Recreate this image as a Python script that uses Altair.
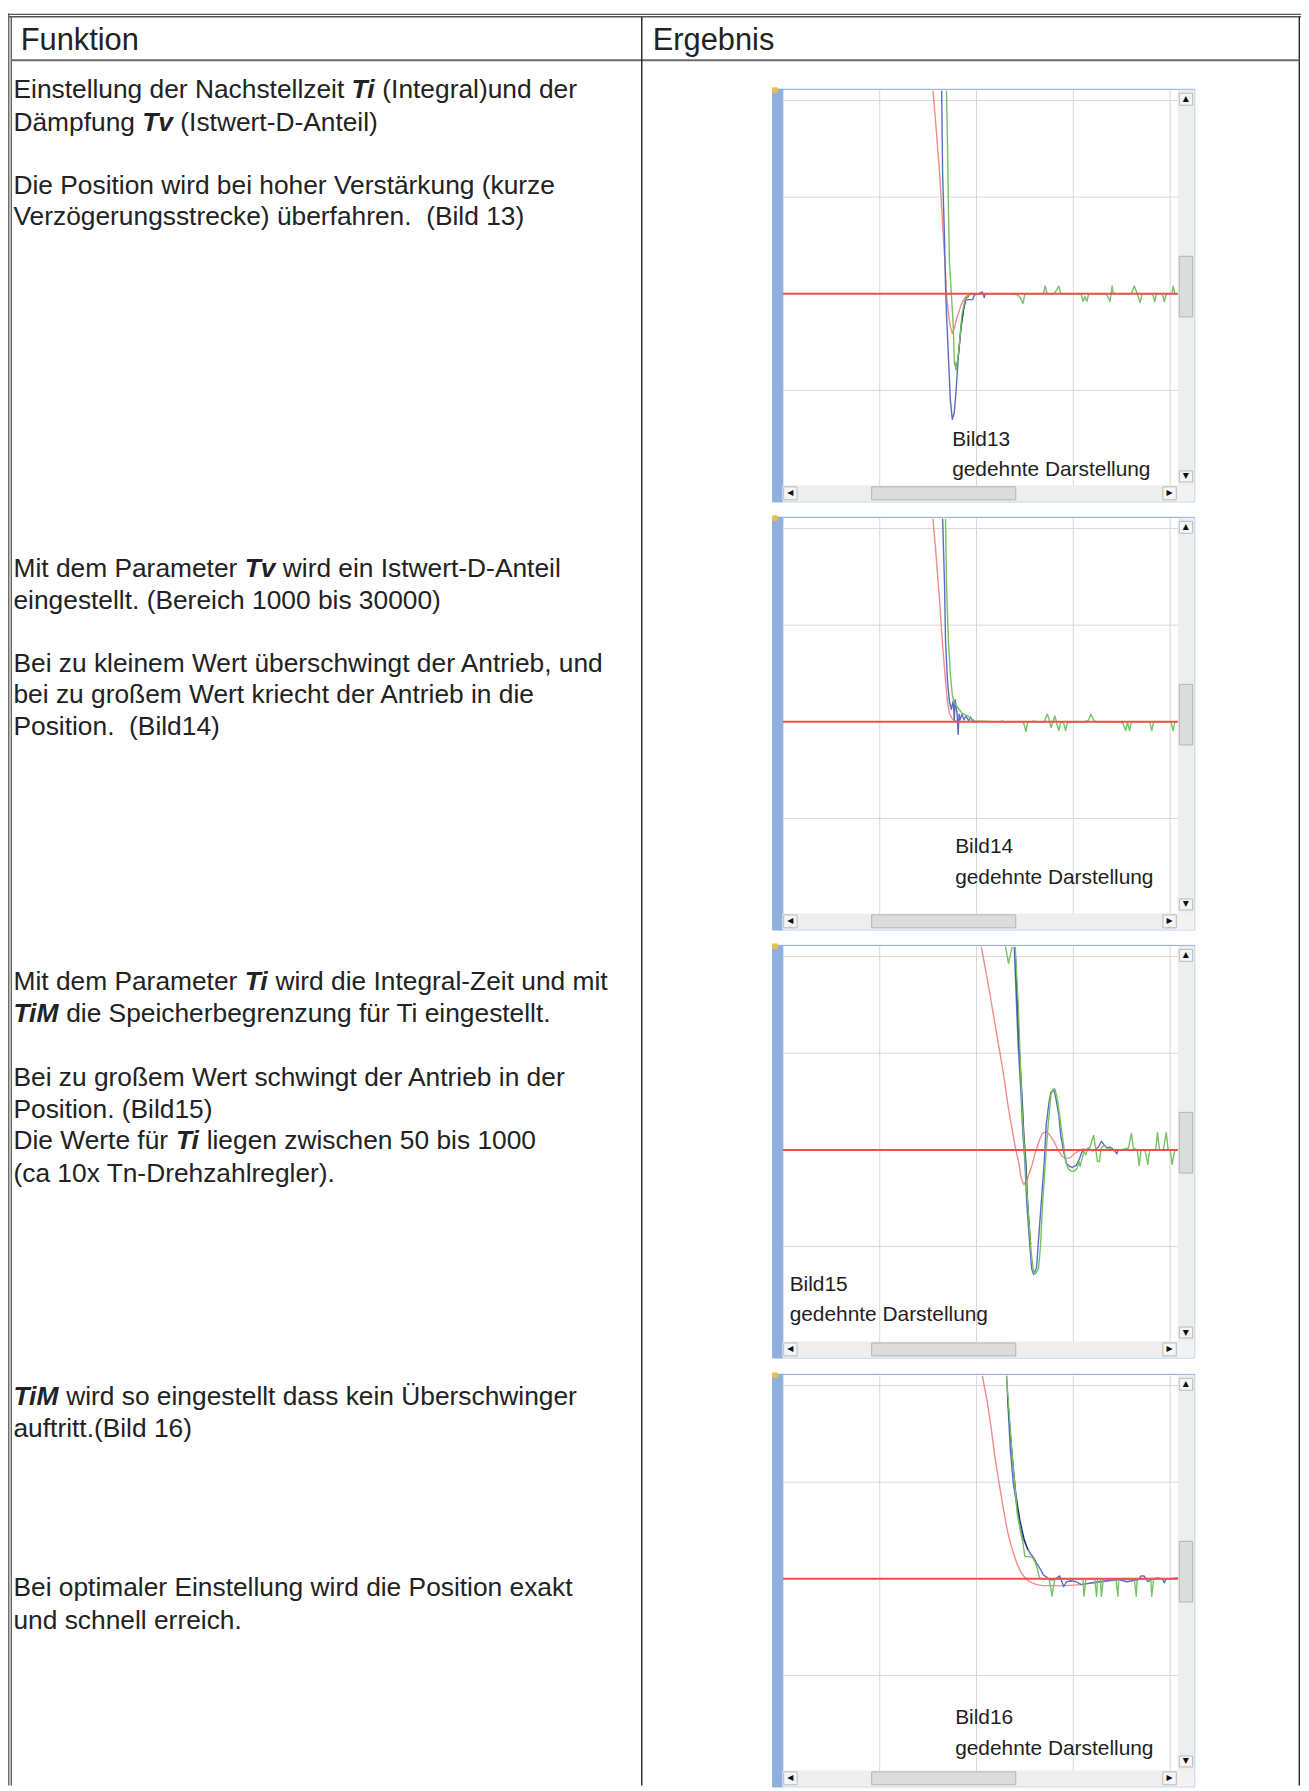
import altair as alt
import pandas as pd

# ================= chart values =================
# t = time in ms (100 ms per grid division), v = position deviation (100 per division)

# --- Bild 13 ---
B13_SOLL_T = [155, 158, 162, 165, 168, 169, 171, 173, 175, 177, 180, 184, 188, 192, 198, 211]
B13_SOLL_V = [210, 175, 123, 72, 21, 0, -21, -34, -41, -36, -24, -12, -4, -1, 0, 0]
B13_BLAU_T = [164, 165, 167, 168, 169, 171, 173, 175, 177, 179, 181, 184, 187, 189, 196, 198, 202, 206, 208, 209, 213]
B13_BLAU_V = [210, 123, 55, 7, -21, -65, -110, -130, -123, -99, -68, -34, -14, -6, -6, -1, 0, 2, -4, 0, 0]
B13_GRUEN_T = [169, 170, 171, 172, 174, 176, 177, 179, 181, 183, 185, 188, 191, 194, 238, 242, 245, 248, 250, 252,
               269, 271, 273, 280, 281, 285, 287, 308, 310, 312, 314, 316, 334, 336, 338, 340, 341, 345, 360, 363,
               366, 369, 371, 382, 384, 386, 392, 394, 396, 402, 403, 405, 408]
B13_GRUEN_V = [210, 157, 89, 34, 0, -34, -68, -79, -65, -44, -21, -7, -2, 0, 0, -1, -4, -10, 0, 0,
               0, 8, 0, 0, 1, 8, 0, 0, -8, -3, -8, 0, 0, -4, -8, 8, 1, 0, 0, 8,
               0, -9, 0, 0, -8, 0, 0, -8, 0, 0, 8, 0, 0]
B13_DUNKEL_T = [177, 179, 181, 184, 187, 189, 192]
B13_DUNKEL_V = [-70, -78, -66, -35, -14, -5, -2]

# --- Bild 14 ---
B14_SOLL_T = [155, 158, 162, 165, 168, 170, 172, 175, 179, 189]
B14_SOLL_V = [210, 175, 124, 79, 42, 21, 9, 3, 1, 0]
B14_BLAU_T = [165, 167, 168, 170, 172, 174, 176, 177, 178, 180, 181, 182, 183, 185, 187, 189, 192, 194, 196, 200]
B14_BLAU_V = [210, 141, 83, 42, 21, 13, 22, 1, 23, 8, -13, 8, 2, 8, 2, 6, 1, 5, 0, 0]
B14_GRUEN_T = [168, 169, 171, 173, 175, 177, 179, 182, 185, 191, 195, 198, 225, 226, 230, 247, 249, 251, 253, 257,
               259, 261, 270, 273, 275, 277, 279, 281, 283, 285, 287, 290, 292, 294, 296, 298, 312, 316, 318, 321,
               323, 346, 351, 354, 356, 358, 360, 370, 379, 381, 383, 391, 401, 403, 405, 406]
B14_GRUEN_V = [210, 141, 83, 49, 28, 20, 17, 13, 9, 6, 3, 1, 0, 1, 0, 0, -2, -10, 0, 0,
               1, 0, 0, 8, 3, -6, 0, 6, -2, -9, 0, -1, -9, 0, -1, 0, 0, 2, 8, 2,
               0, 0, -1, -9, 0, -9, 0, 0, 0, -9, 0, 0, 0, -9, 0, 0]

# --- Bild 15 ---
B15_SOLL_T = [205, 213, 220, 227, 233, 240, 244, 246, 249, 252, 257, 261, 265, 268, 272, 275, 280, 284, 288, 292,
              297, 301, 306, 310, 316, 326]
B15_SOLL_V = [210, 166, 125, 84, 43, 3, -15, -29, -36, -31, -17, -2, 10, 17, 19, 16, 9, 0, -6, -9,
              -8, -4, -1, 1, 0, 0]
B15_BLAU_T = [239, 241, 243, 246, 248, 250, 252, 255, 257, 259, 262, 264, 267, 270, 272, 275, 277, 280, 282, 285,
              287, 290, 293, 296, 299, 303, 306, 309, 313, 316, 320, 322, 326, 329, 332, 335, 338, 342, 345, 346]
B15_BLAU_V = [210, 159, 109, 57, 15, -12, -57, -98, -123, -129, -122, -94, -53, -12, 26, 50, 60, 62, 53, 36,
              15, -2, -14, -17, -18, -16, -10, -2, 0, 1, -1, 0, 3, 9, 5, 2, 3, 0, -4, -1]
B15_GRUEN_A_T = [230, 233, 235, 237]
B15_GRUEN_A_V = [210, 193, 202, 210]
B15_GRUEN_B_T = [240, 243, 245, 247, 249, 251, 254, 257, 259, 261, 264, 266, 268, 271, 274, 277, 279, 281, 284, 287,
                 290, 292, 295, 298, 301, 304, 306, 307, 309, 311, 313, 315, 317, 319, 321, 323, 325, 327, 329, 332,
                 335, 338, 342, 344, 350, 353, 357, 360, 362, 366, 368, 370, 374, 377, 379, 385, 387, 389, 393, 396,
                 398, 400, 402, 405, 406]
B15_GRUEN_B_V = [210, 152, 98, 43, 9, -26, -74, -111, -127, -128, -123, -101, -60, -15, 26, 57, 63, 63, 50, 27,
                 5, -12, -20, -22, -22, -19, -12, -17, -9, -2, -5, 2, 2, 9, 15, 2, -12, -12, 2, 5,
                 1, 2, -1, 0, 0, 1, 2, 17, 2, 0, -16, 0, 0, -15, 0, 0, 18, 0, 0, 18,
                 0, 0, -15, 0, 0]
B15_DUNKEL_T = [240, 242, 244, 247, 249, 251, 253, 256]
B15_DUNKEL_V = [205, 159, 109, 57, 15, -12, -57, -98]

# --- Bild 16 ---
B16_SOLL_T = [206, 211, 215, 219, 224, 228, 232, 237, 242, 247, 252, 257, 262, 269, 279, 293, 307, 314, 348, 382]
B16_SOLL_V = [210, 184, 157, 126, 95, 71, 49, 30, 15, 5, -1, -4, -6, -7, -7, -7, -6, -5, -1, 0]
B16_BLAU_T = [231, 233, 235, 238, 242, 245, 248, 252, 255, 259, 262, 266, 269, 272, 276, 279, 283, 286, 290, 293,
              298, 303, 308, 314, 320, 327, 334, 341, 348, 355, 361, 367, 370, 373, 377, 382, 387, 392, 394, 396, 408]
B16_BLAU_V = [210, 170, 133, 99, 73, 54, 42, 33, 27, 22, 16, 10, 4, 2, -1, -1, 1, 3, -8, -3,
              -2, -3, -6, -5, -4, -3, -2, -1, -1, -3, -2, -1, 3, 3, -3, 0, 1, 0, -4, 0, 1]
B16_GRUEN_T = [231, 234, 237, 240, 242, 245, 248, 250, 253, 255, 258, 261, 263, 265, 269, 275, 277, 278, 279, 281,
               310, 311, 313, 322, 324, 325, 328, 329, 331, 344, 346, 347, 363, 365, 366, 380, 381, 383, 408]
B16_GRUEN_V = [210, 167, 126, 92, 68, 51, 37, 23, 23, 23, 22, 16, 10, 1, 0, 0, -11, -18, -11, 0,
               0, -18, 0, 0, -18, 0, 0, -18, 0, 0, -18, 0, 0, -18, 0, 0, -18, 0, 0]
B16_DUNKEL_T = [232, 235, 238, 241, 245, 249, 253]
B16_DUNKEL_V = [190, 150, 115, 85, 60, 42, 30]

# grid / target of the scope screens
T_DOMAIN = [0, 408]
V_DOMAIN = [-198.7, 210.5]
GRID_T = [100, 200, 300, 400]
GRID_V = [-100, 100, 200]
TARGET_V = 0

# ================= text =================
HEADER_LEFT = "Funktion"
HEADER_RIGHT = "Ergebnis"
PARA_LINES = [
    [("Einstellung der Nachstellzeit ", False), ("Ti", True), (" (Integral)und der", False)],
    [("Dämpfung ", False), ("Tv", True), (" (Istwert-D-Anteil)", False)],
    [("Die Position wird bei hoher Verstärkung (kurze", False)],
    [("Verzögerungsstrecke) überfahren.\u00a0 (Bild 13)", False)],
    [("Mit dem Parameter ", False), ("Tv", True), (" wird ein Istwert-D-Anteil", False)],
    [("eingestellt. (Bereich 1000 bis 30000)", False)],
    [("Bei zu kleinem Wert überschwingt der Antrieb, und", False)],
    [("bei zu großem Wert kriecht der Antrieb in die", False)],
    [("Position.\u00a0 (Bild14)", False)],
    [("Mit dem Parameter ", False), ("Ti", True), (" wird die Integral-Zeit und mit", False)],
    [("TiM", True), (" die Speicherbegrenzung für Ti eingestellt.", False)],
    [("Bei zu großem Wert schwingt der Antrieb in der", False)],
    [("Position. (Bild15)", False)],
    [("Die Werte für ", False), ("Ti", True), (" liegen zwischen 50 bis 1000", False)],
    [("(ca 10x Tn-Drehzahlregler).", False)],
    [("TiM", True), (" wird so eingestellt dass kein Überschwinger", False)],
    [("auftritt.(Bild 16)", False)],
    [("Bei optimaler Einstellung wird die Position exakt", False)],
    [("und schnell erreich.", False)],
]
PANEL_LABELS = [("Bild13", "gedehnte Darstellung"), ("Bild14", "gedehnte Darstellung"),
                ("Bild15", "gedehnte Darstellung"), ("Bild16", "gedehnte Darstellung")]

# ================= layout (view pixels) =================
W, H = 1301, 1783
FONT = "Liberation Sans, Arial, Helvetica, sans-serif"
FS = 26.5
HFS = 31
TEXT_X = 5.5
LINE_BASELINES = [85.5, 118, 182, 213.3, 567, 598.7, 662.7, 693.7, 726,
                  982.7, 1014.7, 1078.7, 1111, 1142.7, 1175.3, 1400.3, 1432.7, 1592.7, 1625.3]
PANEL_TOPS = [76.3, 507.0, 937.7, 1369.3]
PLOT_X = [779.7, 1177.1]
LABEL_POS = [(950, 434.7, 465.3), (953, 845, 875.6), (786.5, 1285, 1315.6), (953, 1721.3, 1752)]

COL_SOLL = "#f28b8b"
COL_BLAU = "#5a6cc6"
COL_GRUEN = "#74c263"
COL_DUNKEL = "#1d2a5c"
COL_ZIEL = "#ee5049"
COL_GRID = "#d9d9d9"

PXS = alt.Scale(domain=[0, W], range=[0, W], nice=False, zero=False)
PYS = alt.Scale(domain=[0, H], range=[0, H], nice=False, zero=False)

REG = {' ': 278, '\u00a0': 278, '(': 333, ')': 333, ',': 278, '-': 333, '.': 278,
       'A': 667, 'B': 667, 'D': 722, 'E': 667, 'I': 278, 'M': 833, 'N': 722, 'P': 667, 'T': 611,
       'V': 667, 'W': 944, 'Z': 611, 'Ü': 722,
       'a': 556, 'b': 556, 'c': 500, 'd': 556, 'e': 556, 'f': 278, 'g': 556, 'h': 556, 'i': 222,
       'k': 500, 'l': 222, 'm': 833, 'n': 556, 'o': 556, 'p': 556, 'r': 333, 's': 500, 't': 278,
       'u': 556, 'v': 500, 'w': 722, 'x': 500, 'z': 500, 'ä': 556, 'ö': 556, 'ü': 556, 'ß': 611}
BI = {' ': 278, 'T': 611, 'i': 278, 'v': 556, 'M': 833}


def adv(s, table, fs):
    return sum(table.get(c, 556) for c in s) * fs / 1000.0


# ---------- text rows ----------
reg_rows = [dict(x=12.8, y=37, text=HEADER_LEFT, s=HFS), dict(x=648.8, y=36.5, text=HEADER_RIGHT, s=HFS)]
bi_rows = []
for segs, base in zip(PARA_LINES, LINE_BASELINES):
    cur = TEXT_X
    for txt, bold in segs:
        table = BI if bold else REG
        lead = len(txt) - len(txt.lstrip(' '))
        x = cur + adv(' ' * lead, REG, FS)
        row = dict(x=x, y=base, text=txt.strip(' '), s=FS)
        (bi_rows if bold else reg_rows).append(row)
        cur += adv(txt, table, FS)

# ---------- panel decoration ----------
rect_rows, glyph_rows, label_rows = [], [], []
for t, (l1, l2), (lx, ly1, ly2) in zip(PANEL_TOPS, PANEL_LABELS, LABEL_POS):
    rect_rows += [
        dict(x=769.5, x2=1194, y=t, y2=t + 415, fill="#ffffff", stroke="#87a7d8"),
        dict(x=769.5, x2=779.7, y=t, y2=t + 415, fill="#8fb0dc", stroke="#8fb0dc"),
        dict(x=1177.5, x2=1193.5, y=t + 1, y2=t + 399, fill="#eeeeee", stroke="#eeeeee"),
        dict(x=779.7, x2=1177.5, y=t + 399, y2=t + 414.5, fill="#eeeeee", stroke="#eeeeee"),
        dict(x=1177.5, x2=1193.5, y=t + 399, y2=t + 414.5, fill="#f2f2f2", stroke="#f2f2f2"),
        dict(x=1178.5, x2=1192, y=t + 4, y2=t + 16, fill="#f5f5f5", stroke="#b9b9b9"),
        dict(x=1178.5, x2=1192, y=t + 168, y2=t + 229, fill="#dcdcdc", stroke="#b3b3b3"),
        dict(x=1178.5, x2=1192, y=t + 384, y2=t + 395, fill="#f5f5f5", stroke="#b9b9b9"),
        dict(x=780.5, x2=794, y=t + 400, y2=t + 413, fill="#f5f5f5", stroke="#b9b9b9"),
        dict(x=869, x2=1014, y=t + 400, y2=t + 413, fill="#dcdcdc", stroke="#b3b3b3"),
        dict(x=1162, x2=1175.5, y=t + 400, y2=t + 413, fill="#f5f5f5", stroke="#b9b9b9"),
        dict(x=769.5, x2=774, y=t - 1.5, y2=t + 3, fill="#e6c24a", stroke="#e6c24a"),
    ]
    glyph_rows += [
        dict(x=1185.2, y=t + 10, text="▲"), dict(x=1185.2, y=t + 389.5, text="▼"),
        dict(x=787.2, y=t + 406.5, text="◀"), dict(x=1168.8, y=t + 406.5, text="▶"),
    ]
    label_rows += [dict(x=lx, y=ly1, text=l1), dict(x=lx, y=ly2, text=l2)]

# ---------- table lines ----------
line_rows = [
    dict(x=0, x2=W, y=0.8, y2=0.8, c="#555555", w=1.3),
    dict(x=0.8, x2=W, y=3.3, y2=3.3, c="#555555", w=1.3),
    dict(x=0.8, x2=0.8, y=0, y2=H, c="#555555", w=1.3),
    dict(x=3.3, x2=3.3, y=3.3, y2=H, c="#555555", w=1.3),
    dict(x=1299.3, x2=1299.3, y=3.3, y2=H, c="#2a2a2a", w=1.4),
    dict(x=3.3, x2=1299.3, y=47, y2=47, c="#6a6a6a", w=2.0),
    dict(x=637.7, x2=637.7, y=3.3, y2=H, c="#222222", w=1.4),
]

layers = []

# decoration rectangles
layers.append(
    alt.Chart(pd.DataFrame(rect_rows)).mark_rect(strokeWidth=1).encode(
        x=alt.X("x:Q", scale=PXS, axis=None), x2="x2:Q",
        y=alt.Y("y:Q", scale=PYS, axis=None), y2="y2:Q",
        fill=alt.Fill("fill:N", scale=None), stroke=alt.Stroke("stroke:N", scale=None))
)


def tscale():
    return alt.Scale(domain=T_DOMAIN, range=PLOT_X, nice=False, zero=False)


def vscale(t):
    return alt.Scale(domain=V_DOMAIN, range=[t + 399, t + 1], nice=False, zero=False)


def trace(ts, vs, color, width, t, seg=None):
    df = pd.DataFrame({"t": ts, "v": vs, "i": list(range(len(ts)))})
    enc = dict(x=alt.X("t:Q", scale=tscale(), axis=None),
               y=alt.Y("v:Q", scale=vscale(t), axis=None),
               order=alt.Order("i:Q"))
    if seg is not None:
        df["seg"] = seg
        enc["detail"] = alt.Detail("seg:N")
    return alt.Chart(df).mark_line(color=color, strokeWidth=width, strokeJoin="round").encode(**enc)


PANELS = [
    dict(soll=(B13_SOLL_T, B13_SOLL_V), blau=(B13_BLAU_T, B13_BLAU_V),
         gruen=[(B13_GRUEN_T, B13_GRUEN_V)], dunkel=(B13_DUNKEL_T, B13_DUNKEL_V)),
    dict(soll=(B14_SOLL_T, B14_SOLL_V), blau=(B14_BLAU_T, B14_BLAU_V),
         gruen=[(B14_GRUEN_T, B14_GRUEN_V)], dunkel=None),
    dict(soll=(B15_SOLL_T, B15_SOLL_V), blau=(B15_BLAU_T, B15_BLAU_V),
         gruen=[(B15_GRUEN_A_T, B15_GRUEN_A_V), (B15_GRUEN_B_T, B15_GRUEN_B_V)],
         dunkel=(B15_DUNKEL_T, B15_DUNKEL_V)),
    dict(soll=(B16_SOLL_T, B16_SOLL_V), blau=(B16_BLAU_T, B16_BLAU_V),
         gruen=[(B16_GRUEN_T, B16_GRUEN_V)], dunkel=(B16_DUNKEL_T, B16_DUNKEL_V)),
]

for t, p in zip(PANEL_TOPS, PANELS):
    gv = pd.DataFrame({"t": GRID_T, "v1": V_DOMAIN[0], "v2": V_DOMAIN[1]})
    layers.append(alt.Chart(gv).mark_rule(color=COL_GRID, strokeWidth=1).encode(
        x=alt.X("t:Q", scale=tscale(), axis=None),
        y=alt.Y("v1:Q", scale=vscale(t), axis=None), y2="v2:Q"))
    gh = pd.DataFrame({"v": GRID_V, "t1": T_DOMAIN[0], "t2": T_DOMAIN[1]})
    layers.append(alt.Chart(gh).mark_rule(color=COL_GRID, strokeWidth=1).encode(
        y=alt.Y("v:Q", scale=vscale(t), axis=None),
        x=alt.X("t1:Q", scale=tscale(), axis=None), x2="t2:Q"))
    layers.append(trace(*p["soll"], COL_SOLL, 1.4, t))
    layers.append(trace(*p["blau"], COL_BLAU, 1.4, t))
    if p["dunkel"] is not None:
        layers.append(trace(*p["dunkel"], COL_DUNKEL, 1.2, t))
    for k, (gt, gvv) in enumerate(p["gruen"]):
        layers.append(trace(gt, gvv, COL_GRUEN, 1.4, t, seg=k if len(p["gruen"]) > 1 else None))
    tg = pd.DataFrame({"v": [TARGET_V], "t1": [T_DOMAIN[0]], "t2": [T_DOMAIN[1]]})
    layers.append(alt.Chart(tg).mark_rule(color=COL_ZIEL, strokeWidth=2).encode(
        y=alt.Y("v:Q", scale=vscale(t), axis=None),
        x=alt.X("t1:Q", scale=tscale(), axis=None), x2="t2:Q"))

# scrollbar arrow glyphs
layers.append(alt.Chart(pd.DataFrame(glyph_rows)).mark_text(
    font="DejaVu Sans", fontSize=8, align="center", baseline="middle", color="#111111").encode(
    x=alt.X("x:Q", scale=PXS, axis=None), y=alt.Y("y:Q", scale=PYS, axis=None), text="text:N"))

# panel labels
layers.append(alt.Chart(pd.DataFrame(label_rows)).mark_text(
    font=FONT, fontSize=21, align="left", baseline="alphabetic", color="#1e1e1e").encode(
    x=alt.X("x:Q", scale=PXS, axis=None), y=alt.Y("y:Q", scale=PYS, axis=None), text="text:N"))

# table lines
layers.append(alt.Chart(pd.DataFrame(line_rows)).mark_rule().encode(
    x=alt.X("x:Q", scale=PXS, axis=None), x2="x2:Q",
    y=alt.Y("y:Q", scale=PYS, axis=None), y2="y2:Q",
    color=alt.Color("c:N", scale=None), strokeWidth=alt.StrokeWidth("w:Q", scale=None)))

# body text
layers.append(alt.Chart(pd.DataFrame(reg_rows)).mark_text(
    font=FONT, align="left", baseline="alphabetic", color="#222222").encode(
    x=alt.X("x:Q", scale=PXS, axis=None), y=alt.Y("y:Q", scale=PYS, axis=None),
    text="text:N", size=alt.Size("s:Q", scale=None)))
layers.append(alt.Chart(pd.DataFrame(bi_rows)).mark_text(
    font=FONT, fontWeight="bold", fontStyle="italic", align="left", baseline="alphabetic",
    color="#222222").encode(
    x=alt.X("x:Q", scale=PXS, axis=None), y=alt.Y("y:Q", scale=PYS, axis=None),
    text="text:N", size=alt.Size("s:Q", scale=None)))

chart = alt.layer(*layers).resolve_scale(x="independent", y="independent").properties(
    width=W, height=H, padding=0, autosize=alt.AutoSizeParams(type="none"), background="white"
).configure_view(stroke=None)

chart.save("out.html", embed_options={"renderer": "svg", "actions": False})
